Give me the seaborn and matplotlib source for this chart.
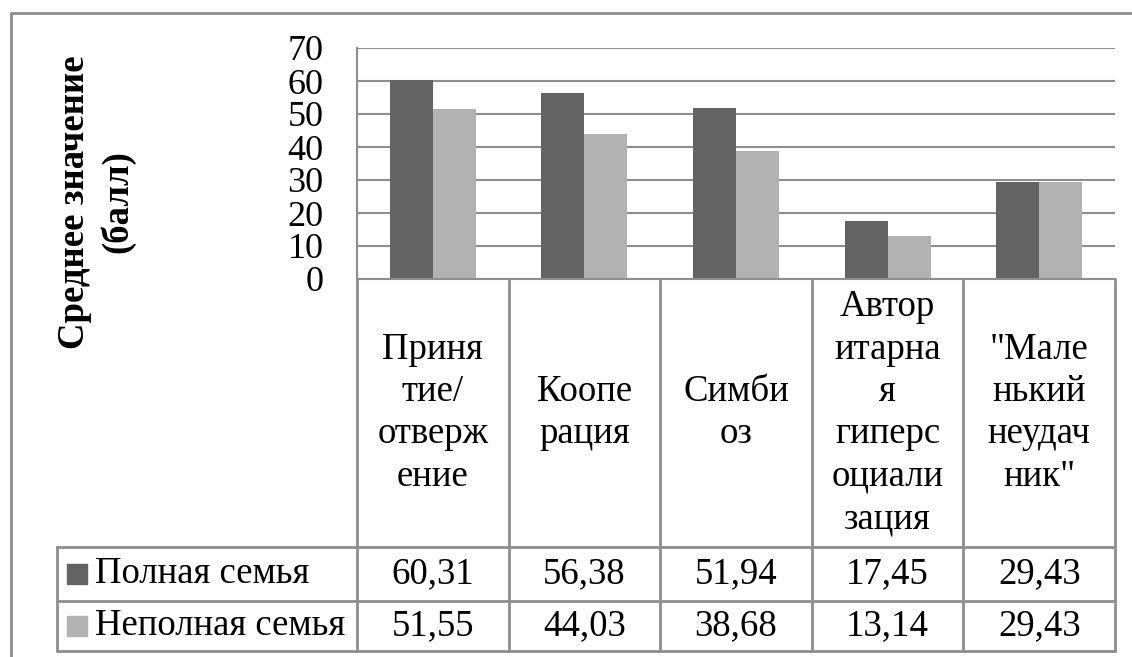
"""
Grouped bar chart of mean scores with an Excel-style data table below.
"""

import pandas as pd
import seaborn as sns
from matplotlib import pyplot as plt
from matplotlib.lines import Line2D
from matplotlib.transforms import blended_transform_factory

categories = [
    "Приня\nтие/\nотверж\nение",
    "Коопе\nрация",
    "Симби\nоз",
    "Автор\nитарна\nя\nгиперс\nоциали\nзация",
    "\"Мале\nнький\nнеудач\nник\"",
]
groups = ["Полная семья", "Неполная семья"]
full_family = [60.31, 56.38, 51.94, 17.45, 29.43]
single_parent = [51.55, 44.03, 38.68, 13.14, 29.43]
y_ticks = [0, 10, 20, 30, 40, 50, 60, 70]
y_label = "Среднее значение\n(балл)"

colors = ["#636363", "#b2b2b2"]
line_gray = "#8e8e8e"
FONT = "Liberation Serif"
TEXT_SIZE = 26.5

W, H = 1132, 657


def fx(px):
    return px / W


def fy(py):
    return 1 - py / H


sns.set_style("white")
plt.rcParams["font.family"] = "serif"
plt.rcParams["font.serif"] = [FONT, "DejaVu Serif"]
plt.rcParams["text.color"] = "black"
plt.rcParams["ytick.labelcolor"] = "black"

df = pd.DataFrame({
    "category": categories * 2,
    "value": full_family + single_parent,
    "group": [groups[0]] * 5 + [groups[1]] * 5,
})

fig = plt.figure(figsize=(W / 100, H / 100), dpi=100)
ax = fig.add_axes([fx(357), fy(279), fx(1115) - fx(357), fy(48) - fy(279)])

sns.barplot(
    data=df, x="category", y="value", hue="group",
    palette=colors, saturation=1, width=0.567, gap=0,
    linewidth=0, ax=ax,
)
ax.legend_.remove()

ax.set_ylim(0, 70)
ax.set_xlim(-0.5, 4.5)
ax.set_yticks(y_ticks)
ax.set_yticklabels([str(t) for t in y_ticks], family=FONT, fontsize=26,
                   color="black")
ax.set_xticks([])
ax.set_xlabel("")
ax.set_ylabel("")
ax.yaxis.grid(True, color=line_gray, lw=1.5)
ax.set_axisbelow(True)
ax.tick_params(axis="y", length=0, pad=24)
for side in ["top", "right"]:
    ax.spines[side].set_visible(False)
for side in ["left", "bottom"]:
    ax.spines[side].set_color(line_gray)
    ax.spines[side].set_linewidth(1.5)

# data table under the plot
plot_h = 279 - 48
row_cat = (279 - 547) / plot_h
row_one = (279 - 601) / plot_h
row_two = (279 - 651) / plot_h
legend_left = (57 - 357) / 758

trans = blended_transform_factory(ax.transData, ax.transAxes)
line_kw = dict(color=line_gray, lw=2, clip_on=False)

for x in [-0.5, 0.5, 1.5, 2.5, 3.5, 4.5]:
    ax.add_line(Line2D([x, x], [0, row_two], transform=trans, **line_kw))
for y in [row_cat, row_one, row_two]:
    ax.add_line(Line2D([legend_left, 1], [y, y], transform=ax.transAxes, **line_kw))
ax.add_line(Line2D([legend_left, legend_left], [row_cat, row_two],
                   transform=ax.transAxes, **line_kw))

for i, label in enumerate(categories):
    ax.text(i, (0 + row_cat) / 2, label, transform=trans, ha="center",
            va="center", fontsize=TEXT_SIZE, family=FONT, linespacing=1.3)

rows = [full_family, single_parent]
row_mid = [(row_cat + row_one) / 2, (row_one + row_two) / 2]
for values, y in zip(rows, row_mid):
    for i, v in enumerate(values):
        ax.text(i, y, f"{v:.2f}".replace(".", ","), transform=trans,
                ha="center", va="center", fontsize=TEXT_SIZE, family=FONT)

for name, color, y in zip(groups, colors, row_mid):
    ax.scatter([(77 - 357) / 758], [y], marker="s", s=19 ** 2 * 0.52,
               color=color, transform=ax.transAxes, clip_on=False)
    ax.text((95 - 357) / 758, y, name, transform=ax.transAxes,
            ha="left", va="center", fontsize=TEXT_SIZE, family=FONT)

fig.text(fx(96), fy(202), y_label, rotation=90, ha="center", va="center",
         fontsize=26.5, fontweight="bold", family=FONT, linespacing=1.28)

# outer chart border (cropped on the right and bottom)
fig.add_artist(Line2D([fx(11), fx(11)], [fy(13), 0], color=line_gray, lw=2))
fig.add_artist(Line2D([fx(11), 1], [fy(13), fy(13)], color=line_gray, lw=2))

fig.savefig("out.png", dpi=100)
